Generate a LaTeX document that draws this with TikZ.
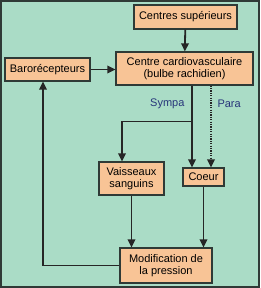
\documentclass[tikz,border=0pt]{standalone}
\usepackage{fontspec}
\setmainfont{Liberation Sans}
\usetikzlibrary{arrows.meta,positioning,calc}
\definecolor{mint}{HTML}{AADCC6}
\definecolor{peach}{HTML}{F8C496}
\definecolor{frame}{HTML}{2F3A36}
\definecolor{inkblue}{HTML}{27357A}

\tikzset{
  box/.style={draw=frame,fill=peach,line width=1.2pt,inner sep=0pt,
    align=center,font=\fontsize{11}{12.5}\selectfont},
  arr/.style={line width=1.8pt,draw=black!85,
    -{Triangle[length=8pt,width=7.5pt]}},
  lab/.style={inkblue,font=\fontsize{11}{12.5}\selectfont}
}

\begin{document}
\begin{tikzpicture}[x=1pt,y=-1pt]
  \fill[mint] (0,0) rectangle (260,288);
  \draw[frame,line width=1.6pt] (0.8,0.8) rectangle (259.2,287.2);

  \node[box,minimum width=103pt,minimum height=24pt] (sup) at (185.5,17) {Centres supérieurs};
  \node[box,minimum width=137pt,minimum height=33pt] (ccv) at (184.5,68.5) {Centre cardiovasculaire\\(bulbe rachidien)};
  \node[box,minimum width=85pt,minimum height=23pt] (baro) at (47.5,69.5) {Barorécepteurs};
  \node[box,minimum width=65pt,minimum height=33pt] (vais) at (131.5,178.5) {Vaisseaux\\sanguins};
  \node[box,minimum width=41pt,minimum height=18pt] (coeur) at (203.5,177) {Coeur};
  \node[box,minimum width=92pt,minimum height=35pt] (modif) at (166,265.5) {Modification de\\la pression};

  % nerfs sympathique et parasympathique
  \coordinate (symp) at ([xshift=7.5pt]ccv.south);
  \coordinate (para) at ([xshift=26.5pt]ccv.south);
  \coordinate (branch) at ($(symp)+(0,36)$);
  \node[lab,anchor=east] (sympalab) at ($(symp)+(-4,18)$) {Sympa};
  \node[lab,anchor=west] (paralab) at ($(para)+(3,18)$) {Para};

  \draw[arr] (sup) -- (ccv);
  \draw[arr] (baro) -- (baro -| ccv.west);
  \draw[arr] (symp) -- (symp |- coeur.north);
  \draw[arr] (branch) -| ([xshift=-9.5pt]vais.north);
  \draw[arr,dash pattern=on 1.2pt off 1.2pt] (para) -- (para |- coeur.north);
  \draw[arr] (vais) -- (vais |- modif.north);
  \draw[arr] (coeur) -- (coeur |- modif.north);
  \draw[arr] (modif.west) -| ([xshift=-4.5pt]baro.south);
\end{tikzpicture}
\end{document}
